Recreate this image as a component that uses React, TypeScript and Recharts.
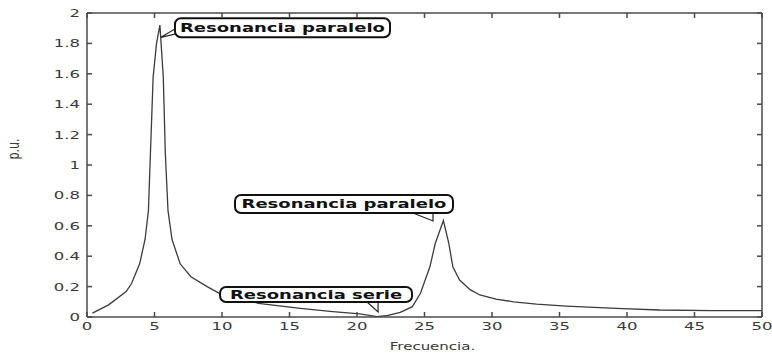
import React from 'react';
import { LineChart, Line, XAxis, YAxis, ReferenceDot } from 'recharts';

// frequency samples (x) and magnitude in p.u. (y)
const freq = [
  0.4, 1.6, 2.9, 3.3, 3.9, 4.3, 4.55, 4.7, 4.9, 5.15,
  5.4, 5.65, 5.8, 6.0, 6.3, 6.9, 7.7, 8.9, 9.8, 12.7,
  15.8, 18.2, 20.2, 21.5, 22.3, 23.2, 24.1, 24.7, 25.4, 25.8,
  26.4, 26.8, 27.1, 27.6, 28.4, 29.1, 30.3, 31.6, 33.3, 35.5,
  39.2, 42.4, 46.3, 50,
];
const pu = [
  0.025, 0.08, 0.167, 0.22, 0.35, 0.51, 0.7, 1.08, 1.58, 1.8,
  1.92, 1.58, 1.08, 0.7, 0.51, 0.35, 0.265, 0.2, 0.156, 0.09,
  0.057, 0.035, 0.02, 0.003, 0.01, 0.03, 0.068, 0.156, 0.33, 0.485,
  0.634, 0.485, 0.33, 0.243, 0.178, 0.145, 0.118, 0.1, 0.085, 0.072,
  0.057, 0.046, 0.042, 0.042,
];

const xTicks = [0, 5, 10, 15, 20, 25, 30, 35, 40, 45, 50];
const yTicks = [0, 0.2, 0.4, 0.6, 0.8, 1, 1.2, 1.4, 1.6, 1.8, 2];

// annotation anchors: [x, y, text]
const notes: Array<[number, number, string]> = [
  [5.48, 1.84, 'Resonancia paralelo'],
  [25.63, 0.632, 'Resonancia paralelo'],
  [21.56, 0.033, 'Resonancia serie'],
];

const data = freq.map((f, i) => ({ f, v: pu[i] }));

const AXIS = '#4a4a4a';
const TXT = '#3a3a3a';
const FONT = 'DejaVu Sans';

const BottomTick = ({ x, y, payload }: any) => (
  <g>
    <line x1={x} x2={x} y1={y} y2={y - 5} stroke={AXIS} strokeWidth={1.5} />
    <text
      transform={`translate(${x},${y + 13}) scale(1.5,1)`}
      textAnchor="middle"
      fontSize={11}
      fontFamily={FONT}
      fill={TXT}
    >
      {payload.value}
    </text>
  </g>
);

const LeftTick = ({ x, y, payload }: any) => (
  <g>
    <line x1={x} x2={x + 5} y1={y} y2={y} stroke={AXIS} strokeWidth={1.5} />
    <text
      transform={`translate(${x - 7},${y + 4}) scale(1.5,1)`}
      textAnchor="end"
      fontSize={11}
      fontFamily={FONT}
      fill={TXT}
    >
      {payload.value}
    </text>
  </g>
);

const TopTick = ({ x, y }: any) => (
  <line x1={x} x2={x} y1={y} y2={y + 5} stroke={AXIS} strokeWidth={1.5} />
);

const RightTick = ({ x, y }: any) => (
  <line x1={x} x2={x - 5} y1={y} y2={y} stroke={AXIS} strokeWidth={1.5} />
);

// box offsets relative to the pointer tip, and tail polygon
const boxes = [
  { l: 14, r: 229, t: -19, b: 0, tail: [[0, 0], [15, -9], [17, -4]] },
  { l: -198, r: 20, t: -26, b: -8, tail: [[-20, -8], [0, 0], [0, -8]] },
  { l: -158, r: 34, t: -25, b: -10, tail: [[-11, -10], [0, 0], [0, -10]] },
];

const Callout = ({ cx, cy, idx, text }: any) => {
  const bx = boxes[idx];
  const pts = bx.tail.map((p: number[]) => `${cx + p[0]},${cy + p[1]}`).join(' ');
  const midX = cx + (bx.l + bx.r) / 2;
  const midY = cy + (bx.t + bx.b) / 2;
  return (
    <g>
      <polygon points={pts} fill="#fff" stroke="#222" strokeWidth={1.2} />
      <rect
        x={cx + bx.l}
        y={cy + bx.t}
        width={bx.r - bx.l}
        height={bx.b - bx.t}
        rx={6}
        ry={6}
        fill="#fff"
        stroke="#111"
        strokeWidth={2}
      />
      <text
        transform={`translate(${midX},${midY + 4.5}) scale(1.5,1)`}
        textAnchor="middle"
        fontSize={12}
        fontWeight="bold"
        fontFamily={FONT}
        fill="#111"
      >
        {text}
      </text>
    </g>
  );
};

const App = () => {
  return (
    <div style={{ position: 'absolute', left: 0, top: 0, background: '#fff' }}>
      <LineChart width={772} height={355} data={data} margin={{ top: 12, right: 9, bottom: 0, left: 0 }}>
        <XAxis
          dataKey="f"
          type="number"
          domain={[0, 50]}
          allowDataOverflow
          ticks={xTicks}
          interval={0}
          tickSize={0}
          tickMargin={0}
          tickLine={false}
          tick={<BottomTick />}
          axisLine={{ stroke: AXIS, strokeWidth: 1.5 }}
          height={38}
          label={(p: any) => {
            const vb = p.viewBox;
            return (
              <text
                transform={`translate(${vb.x + vb.width / 2 + 8},${vb.y + 33}) scale(1.5,1)`}
                textAnchor="middle"
                fontSize={10}
                fontFamily={FONT}
                fill={TXT}
              >
                Frecuencia.
              </text>
            );
          }}
        />
        <XAxis
          xAxisId="top"
          dataKey="f"
          orientation="top"
          type="number"
          domain={[0, 50]}
          allowDataOverflow
          ticks={xTicks}
          interval={0}
          tickSize={0}
          tickMargin={0}
          tickLine={false}
          tick={<TopTick />}
          axisLine={{ stroke: AXIS, strokeWidth: 1.5 }}
          height={1}
        />
        <YAxis
          type="number"
          domain={[0, 2]}
          allowDataOverflow
          ticks={yTicks}
          interval={0}
          tickSize={0}
          tickMargin={0}
          tickLine={false}
          tick={<LeftTick />}
          axisLine={{ stroke: AXIS, strokeWidth: 1.5 }}
          width={87}
          label={(p: any) => {
            const vb = p.viewBox;
            return (
              <text
                transform={`translate(19,${vb.y + vb.height / 2 - 16}) rotate(-90) scale(1,1.4)`}
                textAnchor="middle"
                fontSize={11}
                fontFamily={FONT}
                fill={TXT}
              >
                p.u.
              </text>
            );
          }}
        />
        <YAxis
          yAxisId="right"
          orientation="right"
          type="number"
          domain={[0, 2]}
          allowDataOverflow
          ticks={yTicks}
          interval={0}
          tickSize={0}
          tickMargin={0}
          tickLine={false}
          tick={<RightTick />}
          axisLine={{ stroke: AXIS, strokeWidth: 1.5 }}
          width={1}
        />
        {/* invisible twin so the top/right frame axes get rendered */}
        <Line
          xAxisId="top"
          yAxisId="right"
          dataKey="v"
          type="linear"
          stroke="none"
          dot={false}
          activeDot={false}
          isAnimationActive={false}
        />
        <Line
          dataKey="v"
          type="linear"
          stroke="#3c3c3c"
          strokeWidth={1.3}
          dot={false}
          isAnimationActive={false}
        />
        {notes.map(([nx, ny, t], i) => (
          <ReferenceDot
            key={i}
            x={nx}
            y={ny}
            r={0}
            ifOverflow="visible"
            shape={(props: any) => <Callout cx={props.cx} cy={props.cy} idx={i} text={t} />}
          />
        ))}
      </LineChart>
    </div>
  );
};

export default App;
